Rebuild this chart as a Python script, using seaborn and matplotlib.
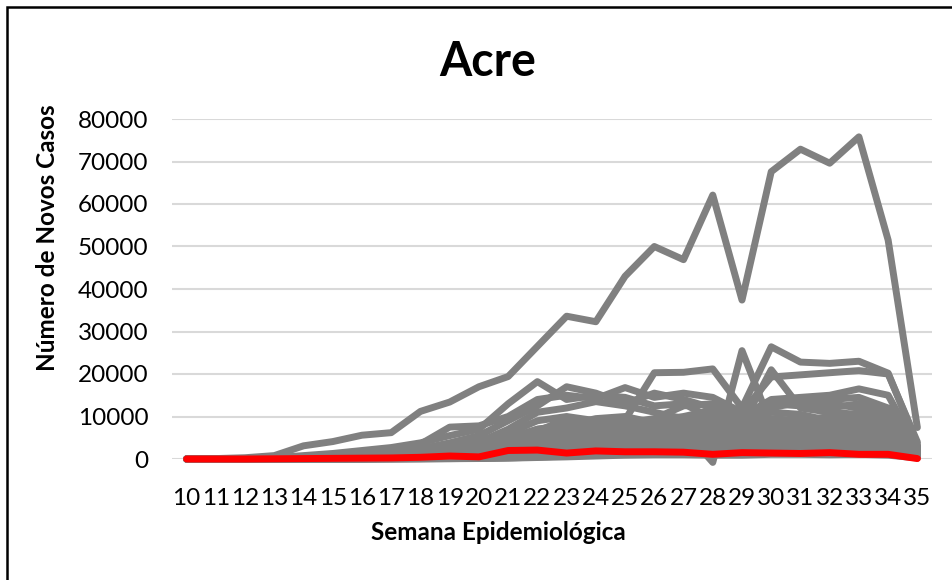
import pandas as pd
import matplotlib
matplotlib.use("Agg")
import matplotlib.pyplot as plt
import matplotlib.ticker as mticker
from matplotlib.patches import Rectangle
import seaborn as sns


# weeks on the x axis
semanas = list(range(10, 36))

# red highlighted series
acre = [0, 0, 0, 50, 100, 150, 200, 250, 400, 700, 500, 2000, 2100, 1400, 1900, 1700,
        1700, 1600, 1100, 1500, 1400, 1300, 1500, 1100, 1100, 100]

# gray series (other states)
serie_01 = [0, 100, 300, 800, 3100, 4100, 5600, 6200, 11200, 13400, 17000, 19400, 26500,
            33600, 32300, 43000, 50000, 46900, 62100, 37400, 67600, 72900, 69600, 75800, 51500, 7400]
serie_02 = [0, 0, 20, 60, 150, 300, 500, 800, 1500, 2500, 3500, 5000, 7000, 8000, 8500,
            9200, 20300, 20400, 21200, 12000, 26400, 22800, 22500, 23000, 20200, 3500]
serie_03 = [0, 30, 100, 300, 800, 1300, 2000, 2700, 3800, 5500, 7000, 13000, 18200, 14000,
            15000, 14500, 12500, 13000, 9500, 9000, 11000, 10500, 9000, 11000, 9500, 2500]
serie_04 = [0, 0, 50, 150, 400, 700, 1100, 1600, 2400, 3800, 5500, 9000, 12500, 17000,
            15500, 13000, 15500, 14000, 12000, 10500, 12500, 13500, 14000, 14500, 12000, 3000]
serie_05 = [0, 0, 30, 100, 250, 500, 800, 1200, 3500, 7500, 7800, 10000, 14000, 15000,
            14200, 16800, 14500, 15500, 14500, 11000, 19300, 19800, 20300, 20800, 20000, 4000]
serie_06 = [0, 0, 20, 80, 200, 400, 700, 1000, 1600, 2500, 4000, 7000, 11000, 12000,
            13500, 12500, 11000, 9500, 11500, 9500, 13000, 12500, 12000, 13000, 11500, 3000]
serie_07 = [0, 0, 10, 50, 150, 300, 500, 800, 1300, 2200, 3500, 6000, 9000, 10000, 9000,
            8500, 9500, 12500, 13000, 10000, 14000, 14500, 15000, 16500, 15000, 2500]
serie_08 = [0, 0, 10, 40, 100, 250, 450, 700, 1100, 1800, 2800, 4500, 7000, 8000, 9500,
            10000, 8500, 8000, 10000, 8000, 9500, 9000, 10000, 9000, 8500, 2000]
serie_09 = [0, 0, 5, 30, 80, 200, 350, 550, 900, 1500, 2500, 4000, 6500, 9500, 8500, 7000,
            8000, 9000, 7500, 7000, 8500, 9500, 8500, 9500, 9000, 2500]
serie_10 = [0, 0, 5, 20, 60, 150, 300, 500, 800, 1300, 2200, 3500, 5500, 7000, 7500, 8000,
            7000, 7500, 6500, 6000, 7500, 8000, 7500, 8500, 7000, 2000]
serie_11 = [0, 0, 5, 20, 50, 120, 250, 400, 700, 1100, 1800, 3000, 4500, 5500, 6500, 7000,
            6500, 6000, 7000, 5500, 6500, 7000, 6500, 7000, 6500, 1800]
serie_12 = [0, 0, 0, 10, 40, 100, 200, 350, 600, 900, 1500, 2500, 4000, 5000, 5500, 6000,
            6500, 5500, 6000, 4500, 6000, 6500, 6000, 6500, 5500, 1500]
serie_13 = [0, 0, 0, 10, 30, 80, 150, 300, 500, 800, 1300, 2200, 3500, 4500, 5000, 5500,
            6000, 5000, 5500, 4000, 5500, 5500, 5500, 6000, 5000, 1500]
serie_14 = [0, 0, 0, 5, 20, 60, 120, 250, 400, 700, 1100, 1800, 3000, 4000, 4500, 5000,
            5200, 4800, 4500, 3800, 5000, 5000, 4800, 5200, 4500, 1200]
serie_15 = [0, 0, 0, 5, 15, 50, 100, 200, 350, 600, 900, 1500, 2500, 3500, 4000, 4500,
            4500, 4200, 4000, 3500, 4500, 4500, 4200, 4500, 4000, 1000]
serie_16 = [0, 0, 0, 0, 10, 30, 80, 150, 250, 450, 700, 1200, 2000, 2800, 3300, 3800,
            4000, 3800, 3500, 3200, 4000, 4000, 3800, 4000, 3500, 900]
serie_17 = [0, 0, 0, 0, 10, 25, 60, 120, 200, 350, 600, 1000, 1600, 2200, 2800, 3200,
            3500, 3300, 3000, 2800, 3500, 3500, 3300, 3500, 3000, 800]
serie_18 = [0, 0, 0, 0, 5, 20, 50, 100, 160, 280, 450, 800, 1300, 1800, 2300, 2700, 3000,
            2900, 2600, 2500, 3000, 3100, 2900, 3000, 2600, 700]
serie_19 = [0, 0, 0, 0, 5, 15, 40, 80, 130, 220, 350, 600, 1000, 1400, 1800, 2200, 2500,
            2400, 2200, 2100, 2600, 2600, 2500, 2600, 2300, 600]
serie_20 = [0, 0, 0, 0, 0, 10, 30, 60, 100, 170, 280, 450, 750, 1100, 1400, 1700, 2000,
            1900, 1800, 1700, 2100, 2200, 2100, 2200, 1900, 500]
serie_21 = [0, 0, 0, 0, 0, 5, 20, 40, 70, 120, 200, 350, 600, 900, 1200, 1500, 1700, 1600,
            1500, 1400, 1700, 1800, 1700, 1800, 1600, 400]
serie_22 = [0, 0, 0, 0, 0, 5, 10, 30, 50, 90, 150, 250, 450, 700, 900, 1100, 1300, 1300,
            1200, 1100, 1400, 1400, 1300, 1400, 1200, 300]
serie_23 = [0, 0, 0, 0, 0, 0, 10, 20, 40, 70, 110, 200, 350, 500, 700, 900, 1000, 1000,
            900, 900, 1100, 1100, 1000, 1100, 900, 250]
serie_24 = [0, 0, 0, 0, 10, 30, 70, 150, 300, 600, 1000, 1800, 3000, 4000, 5000, 6000,
            6500, 7000, -800, 25500, 8000, 9000, 8500, 9500, 8000, 2000]
serie_25 = [0, 0, 0, 10, 30, 80, 200, 400, 800, 1500, 2500, 4200, 6000, 7000, 8000, 8500,
            9000, 10000, 11500, 9000, 12000, 13500, 13000, 12000, 11000, 3000]
serie_26 = [0, 0, 0, 10, 40, 100, 250, 500, 900, 1600, 2600, 4000, 5500, 6500, 7000,
            7500, 8000, 8500, 9000, 8000, 21000, 12000, 11000, 10500, 9500, 2500]

cinza = [serie_01, serie_02, serie_03, serie_04, serie_05, serie_06, serie_07, serie_08,
         serie_09, serie_10, serie_11, serie_12, serie_13, serie_14, serie_15, serie_16,
         serie_17, serie_18, serie_19, serie_20, serie_21, serie_22, serie_23, serie_24,
         serie_25, serie_26]

# long table for seaborn
rows = []
for i, s in enumerate(cinza):
    for w, v in zip(semanas, s):
        rows.append({"estado": "serie_%02d" % (i + 1), "semana": w, "casos": v})
df = pd.DataFrame(rows)
df_acre = pd.DataFrame({"semana": semanas, "casos": acre})

sns.set_style("white")
plt.rcParams["font.family"] = ["Lato", "DejaVu Sans"]
plt.rcParams["text.color"] = "black"

fig = plt.figure(figsize=(9.53, 5.8), dpi=100)
ax = fig.add_axes([172 / 953, 1 - 459 / 580, 760 / 953, 340 / 580])

sns.lineplot(data=df, x="semana", y="casos", units="estado", estimator=None,
             color="#808080", linewidth=5, ax=ax, clip_on=False, legend=False)
sns.lineplot(data=df_acre, x="semana", y="casos", color="#FF0000", linewidth=5,
             ax=ax, clip_on=False, legend=False)

ax.set_xlim(9.5, 35.5)
ax.set_ylim(0, 80000)
ax.set_xticks(semanas)
ax.set_yticks(range(0, 80001, 10000))
ax.yaxis.set_major_formatter(mticker.FuncFormatter(lambda v, p: "%d" % v))
ax.tick_params(axis="both", length=0, labelsize=17.5, colors="black")
ax.tick_params(axis="x", pad=21)
ax.tick_params(axis="y", pad=17)
ax.grid(axis="y", color="#D9D9D9", linewidth=1.5)
ax.set_axisbelow(True)
for sp in ax.spines.values():
    sp.set_visible(False)
ax.set_xlabel("")
ax.set_ylabel("")

fig.text(488 / 953, 1 - 62 / 580, "Acre", ha="center", va="center",
         fontsize=33.5, fontweight="bold", color="black")
fig.text(498 / 953, 1 - 533 / 580, "Semana Epidemiológica", ha="center", va="center",
         fontsize=17.5, fontweight="bold", color="black")
fig.text(48 / 953, 1 - 238 / 580, "Número de Novos Casos", ha="center", va="center",
         rotation=90, fontsize=17.5, fontweight="bold", color="black")

# chart frame
fig.add_artist(Rectangle((6.5 / 953, -0.1), 1.2, 1.1 - 6.5 / 580,
                         transform=fig.transFigure, fill=False, edgecolor="black",
                         linewidth=1.8))

plt.savefig("out.png", dpi=100)
